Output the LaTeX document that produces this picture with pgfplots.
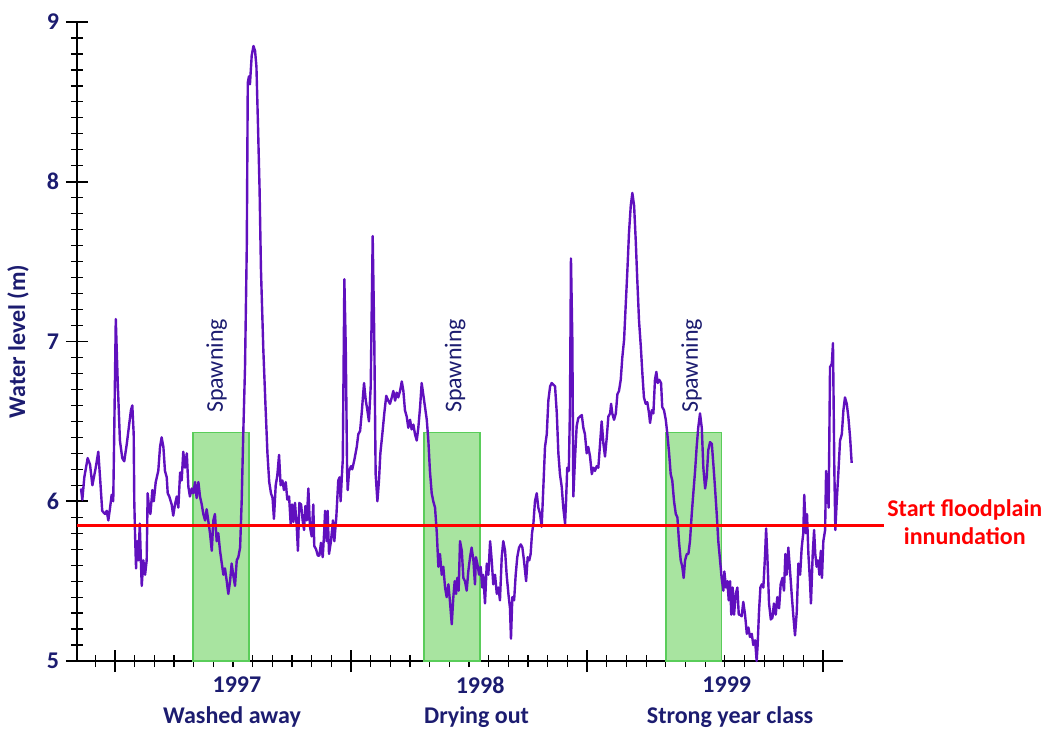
\documentclass[border=0pt]{standalone}
\usepackage{fontspec}
\setmainfont{Carlito}
\usepackage{pgfplots}
\usepackage{pgfplotstable}
\pgfplotsset{compat=1.18}
\definecolor{navytxt}{RGB}{28,28,112}
\definecolor{curvecol}{RGB}{96,16,190}
\definecolor{boxfill}{RGB}{168,228,160}
\definecolor{boxedge}{RGB}{90,205,90}
\pgfplotstableread{
m v
-1.73 6.08
-1.66 6.01
-1.56 6.15
-1.39 6.27
-1.27 6.23
-1.15 6.10
-0.98 6.21
-0.85 6.31
-0.75 6.13
-0.65 5.94
-0.51 5.92
-0.42 5.94
-0.34 5.88
-0.25 5.96
-0.17 6.04
-0.09 6.00
-0.04 6.42
0.04 7.14
0.14 6.74
0.25 6.38
0.37 6.27
0.47 6.25
0.60 6.36
0.68 6.44
0.81 6.57
0.88 6.60
0.95 6.42
0.98 6.00
1.02 5.79
1.07 5.58
1.12 5.75
1.19 5.63
1.26 5.86
1.32 5.61
1.36 5.47
1.44 5.63
1.53 5.54
1.61 5.63
1.66 6.05
1.73 5.96
1.80 5.92
1.90 6.07
1.97 6.00
2.07 6.12
2.20 6.19
2.29 6.34
2.37 6.40
2.46 6.34
2.54 6.19
2.63 6.15
2.68 6.05
2.76 6.03
2.88 5.98
2.96 5.91
3.05 5.98
3.14 6.03
3.22 5.96
3.31 6.18
3.39 6.13
3.47 6.31
3.56 6.21
3.65 6.30
3.73 6.09
3.81 6.03
3.90 6.08
3.98 6.05
4.07 6.12
4.15 6.02
4.24 6.12
4.32 6.03
4.41 5.98
4.49 5.92
4.58 5.88
4.66 5.95
4.74 5.88
4.83 5.80
4.92 5.69
5.00 5.88
5.08 5.92
5.17 5.75
5.25 5.80
5.34 5.69
5.43 5.61
5.51 5.54
5.59 5.58
5.68 5.50
5.76 5.42
5.85 5.50
5.93 5.61
6.01 5.54
6.10 5.47
6.19 5.63
6.27 5.65
6.36 5.71
6.44 6.00
6.52 6.42
6.61 6.84
6.70 7.60
6.75 8.62
6.81 8.66
6.86 8.61
6.95 8.79
7.04 8.85
7.12 8.82
7.19 8.72
7.27 8.35
7.35 7.95
7.42 7.45
7.54 6.95
7.65 6.60
7.75 6.30
7.84 6.12
7.93 6.05
8.01 6.02
8.08 5.89
8.17 6.10
8.25 6.16
8.34 6.29
8.42 6.10
8.51 6.13
8.59 6.07
8.68 6.12
8.76 6.01
8.85 6.03
8.93 5.86
9.00 5.98
9.07 5.87
9.15 5.99
9.24 5.84
9.30 5.69
9.37 5.99
9.46 5.98
9.54 5.88
9.61 5.82
9.68 5.97
9.75 5.88
9.83 6.08
9.91 5.84
10.00 5.78
10.08 5.98
10.13 5.72
10.22 5.70
10.31 5.66
10.39 5.66
10.47 5.74
10.56 5.65
10.64 5.82
10.68 5.94
10.76 5.75
10.81 5.94
10.88 5.67
10.98 5.75
11.08 5.88
11.15 5.75
11.25 5.90
11.35 6.13
11.42 6.15
11.47 6.00
11.53 6.15
11.58 6.26
11.66 7.39
11.73 6.97
11.80 6.19
11.83 6.07
11.90 6.19
12.00 6.22
12.06 6.20
12.17 6.26
12.29 6.34
12.37 6.42
12.46 6.44
12.54 6.55
12.66 6.74
12.75 6.63
12.83 6.57
12.91 6.50
13.00 6.72
13.10 7.66
13.18 7.03
13.25 6.17
13.34 6.00
13.42 6.13
13.49 6.30
13.59 6.42
13.69 6.55
13.79 6.66
13.89 6.63
13.98 6.61
14.07 6.65
14.15 6.69
14.24 6.63
14.32 6.68
14.40 6.65
14.49 6.69
14.58 6.75
14.66 6.69
14.74 6.57
14.83 6.53
14.91 6.46
15.00 6.51
15.08 6.45
15.17 6.48
15.25 6.42
15.34 6.38
15.42 6.46
15.51 6.59
15.59 6.74
15.67 6.67
15.76 6.59
15.85 6.51
15.93 6.38
16.01 6.19
16.10 6.05
16.18 6.00
16.27 5.96
16.36 5.80
16.44 5.59
16.52 5.67
16.61 5.54
16.69 5.59
16.78 5.46
16.86 5.40
16.95 5.48
17.03 5.37
17.12 5.23
17.20 5.40
17.27 5.50
17.34 5.42
17.40 5.52
17.47 5.44
17.54 5.75
17.63 5.69
17.71 5.52
17.79 5.50
17.88 5.44
17.96 5.56
18.05 5.65
18.13 5.71
18.22 5.63
18.30 5.48
18.35 5.65
18.42 5.61
18.51 5.54
18.59 5.59
18.67 5.46
18.72 5.54
18.81 5.36
18.90 5.61
18.98 5.54
19.07 5.75
19.15 5.63
19.23 5.48
19.32 5.54
19.41 5.42
19.49 5.46
19.57 5.38
19.66 5.65
19.74 5.75
19.83 5.69
19.91 5.54
20.00 5.42
20.08 5.33
20.13 5.14
20.20 5.40
20.29 5.38
20.37 5.54
20.45 5.65
20.54 5.71
20.63 5.73
20.71 5.71
20.79 5.63
20.90 5.50
20.98 5.65
21.06 5.63
21.13 5.67
21.20 5.80
21.27 5.86
21.35 6.00
21.44 6.05
21.52 5.96
21.61 5.92
21.69 5.84
21.77 6.07
21.86 6.34
21.95 6.42
22.03 6.63
22.12 6.72
22.20 6.74
22.28 6.73
22.37 6.72
22.46 6.55
22.54 6.30
22.62 6.17
22.71 6.09
22.79 5.96
22.88 5.86
22.93 6.00
22.99 6.21
23.07 6.19
23.13 6.59
23.18 7.52
23.25 7.01
23.30 6.03
23.39 6.28
23.47 6.47
23.55 6.52
23.64 6.53
23.73 6.54
23.81 6.46
23.89 6.42
23.98 6.30
24.06 6.34
24.15 6.28
24.24 6.17
24.32 6.21
24.40 6.19
24.49 6.22
24.57 6.21
24.66 6.36
24.74 6.50
24.83 6.36
24.91 6.28
25.00 6.40
25.08 6.53
25.17 6.55
25.22 6.61
25.28 6.55
25.37 6.51
25.46 6.55
25.54 6.67
25.62 6.69
25.71 6.76
25.79 6.90
25.88 7.01
25.96 7.22
26.05 7.45
26.13 7.68
26.22 7.85
26.30 7.93
26.39 7.85
26.47 7.64
26.55 7.39
26.64 7.13
26.73 6.97
26.81 6.80
26.89 6.65
26.98 6.61
27.06 6.62
27.15 6.55
27.20 6.49
27.29 6.57
27.37 6.55
27.45 6.76
27.52 6.81
27.59 6.74
27.67 6.76
27.76 6.74
27.82 6.59
27.91 6.57
28.00 6.51
28.08 6.42
28.17 6.30
28.25 6.17
28.33 6.13
28.42 6.00
28.51 5.92
28.59 5.90
28.67 5.75
28.76 5.63
28.84 5.59
28.91 5.52
28.98 5.63
29.07 5.67
29.15 5.67
29.23 5.75
29.32 5.92
29.40 6.05
29.49 6.19
29.57 6.34
29.65 6.46
29.74 6.55
29.83 6.46
29.91 6.21
30.00 6.08
30.08 6.15
30.16 6.32
30.25 6.37
30.34 6.36
30.42 6.23
30.50 6.09
30.59 5.92
30.67 5.75
30.76 5.63
30.84 5.52
30.93 5.44
30.98 5.56
31.06 5.46
31.13 5.50
31.20 5.38
31.27 5.50
31.33 5.29
31.40 5.46
31.47 5.29
31.56 5.42
31.64 5.46
31.71 5.29
31.77 5.29
31.86 5.28
31.94 5.37
32.03 5.29
32.12 5.17
32.20 5.21
32.28 5.15
32.37 5.17
32.45 5.10
32.54 5.13
32.62 5.00
32.67 5.10
32.74 5.31
32.81 5.46
32.88 5.48
32.96 5.46
33.05 5.67
33.10 5.83
33.16 5.67
33.25 5.36
33.34 5.26
33.42 5.27
33.50 5.36
33.59 5.29
33.67 5.40
33.76 5.33
33.84 5.48
33.93 5.52
34.01 5.44
34.08 5.67
34.15 5.54
34.23 5.71
34.32 5.56
34.40 5.42
34.48 5.29
34.57 5.16
34.66 5.31
34.74 5.61
34.83 5.54
34.91 5.71
34.99 5.80
35.04 6.04
35.12 5.80
35.18 5.92
35.25 5.67
35.33 5.50
35.38 5.36
35.47 5.67
35.54 5.82
35.60 5.67
35.67 5.59
35.74 5.63
35.81 5.54
35.88 5.69
35.94 5.52
36.01 5.75
36.10 5.82
36.15 6.19
36.21 6.11
36.28 5.96
36.35 6.84
36.44 6.86
36.50 6.99
36.57 6.19
36.62 5.82
36.69 6.00
36.77 6.17
36.86 6.38
36.95 6.42
37.03 6.57
37.11 6.65
37.20 6.61
37.28 6.53
37.37 6.40
37.45 6.24
}\levels
\begin{document}
\begin{tikzpicture}
\begin{axis}[
  at={(0pt,0pt)}, anchor=south west,
  scale only axis, width=383pt, height=319.5pt,
  xmin=-1.932, xmax=37.01, ymin=5, ymax=9,
  axis x line*=bottom, axis y line*=left,
  axis line style={-, black, line width=0.9pt},
  xtick={0,12,24,36}, xticklabels={},
  minor xtick={-1,0,...,36},
  ytick={5,6,7,8,9}, minor y tick num=9,
  tick align=center,
  major tick length=11pt, minor tick length=6pt,
  every major tick/.append style={black, line width=0.9pt},
  every minor tick/.append style={black, line width=0.6pt},
  yticklabel style={font=\fontsize{12}{14}\selectfont\bfseries, text=navytxt},
  /pgf/number format/assume math mode=true,
  clip=false,
  ylabel={Water level (m)},
  every axis y label/.style={at={(axis description cs:-0.077,0.5)}, rotate=90, anchor=center,
    font=\fontsize{12}{14}\selectfont\bfseries, text=navytxt},
]
% spawning periods
\addplot[fill=boxfill, draw=boxedge, line width=0.8pt] coordinates {(3.98,5) (3.98,6.43) (6.81,6.43) (6.81,5)} -- cycle;
\addplot[fill=boxfill, draw=boxedge, line width=0.8pt] coordinates {(15.71,5) (15.71,6.43) (18.56,6.43) (18.56,5)} -- cycle;
\addplot[fill=boxfill, draw=boxedge, line width=0.8pt] coordinates {(28.01,5) (28.01,6.43) (30.84,6.43) (30.84,5)} -- cycle;
% water level
\addplot[curvecol, line width=1.2pt, line join=round, mark=none] table[x=m, y=v] {\levels};
% floodplain threshold
\addplot[red, line width=1.5pt, mark=none] coordinates {(-1.932,5.85) (39.1,5.85)};
% labels
\node[rotate=90, anchor=west, inner sep=0pt, text=navytxt, font=\fontsize{12}{14}\selectfont] at (axis cs:5.17,6.55) {Spawning};
\node[rotate=90, anchor=west, inner sep=0pt, text=navytxt, font=\fontsize{12}{14}\selectfont] at (axis cs:17.29,6.55) {Spawning};
\node[rotate=90, anchor=west, inner sep=0pt, text=navytxt, font=\fontsize{12}{14}\selectfont] at (axis cs:29.32,6.55) {Spawning};
\node[text=navytxt, font=\fontsize{12}{14}\selectfont\bfseries, yshift=-12pt] at (axis cs:6.2,5) {1997};
\node[text=navytxt, font=\fontsize{12}{14}\selectfont\bfseries, yshift=-12pt] at (axis cs:18.56,5) {1998};
\node[text=navytxt, font=\fontsize{12}{14}\selectfont\bfseries, yshift=-12pt] at (axis cs:31.1,5) {1999};
\node[text=navytxt, font=\fontsize{12}{14}\selectfont\bfseries, yshift=-28pt] at (axis cs:5.95,5) {Washed away};
\node[text=navytxt, font=\fontsize{12}{14}\selectfont\bfseries, yshift=-28pt] at (axis cs:18.38,5) {Drying out};
\node[text=navytxt, font=\fontsize{12}{14}\selectfont\bfseries, yshift=-28pt] at (axis cs:31.27,5) {Strong year class};
\node[align=center, text=red, font=\fontsize{12}{14}\selectfont\bfseries] at (axis cs:43.2,5.87) {Start floodplain\\innundation};
\end{axis}
\pgfresetboundingbox
\path[use as bounding box] (-38.5pt,-34pt) rectangle (483pt,330.5pt);
\end{tikzpicture}
\end{document}
